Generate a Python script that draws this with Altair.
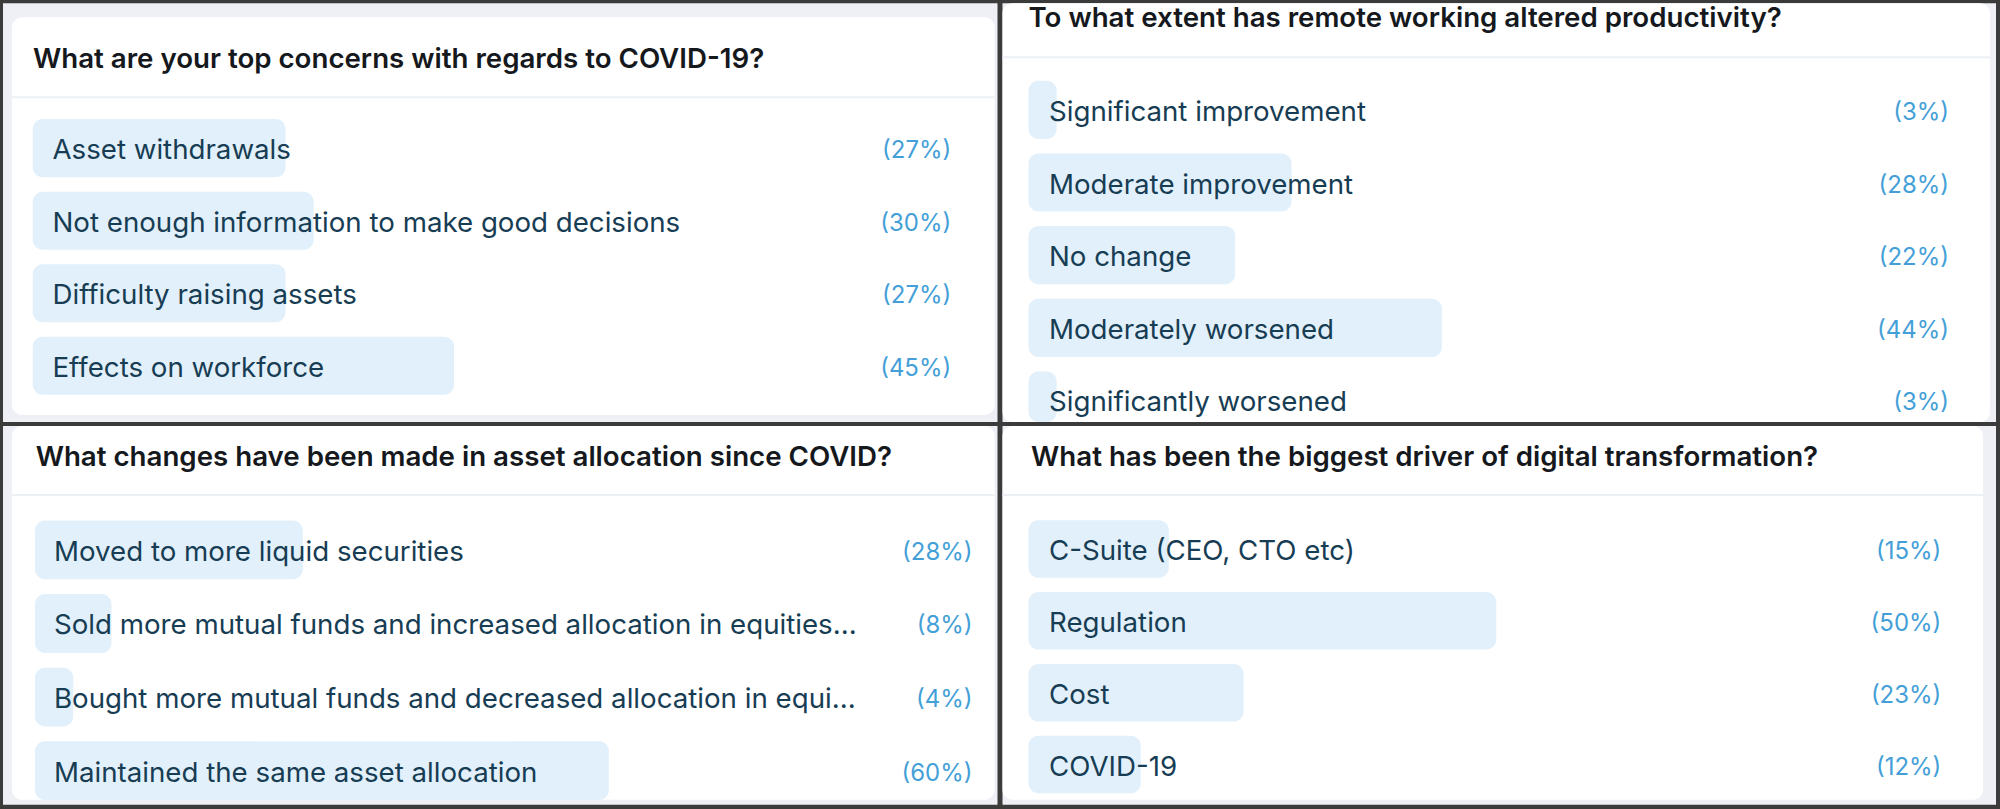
import altair as alt
import pandas as pd

# ---------------- data ----------------
tl_title = "What are your top concerns with regards to COVID-19?"
tl_options = ["Asset withdrawals", "Not enough information to make good decisions",
              "Difficulty raising assets", "Effects on workforce"]
tl_values = [27, 30, 27, 45]

tr_title = "To what extent has remote working altered productivity?"
tr_options = ["Significant improvement", "Moderate improvement", "No change",
              "Moderately worsened", "Significantly worsened"]
tr_values = [3, 28, 22, 44, 3]

bl_title = "What changes have been made in asset allocation since COVID?"
bl_options = ["Moved to more liquid securities",
              "Sold more mutual funds and increased allocation in equities...",
              "Bought more mutual funds and decreased allocation in equi...",
              "Maintained the same asset allocation"]
bl_values = [28, 8, 4, 60]

br_title = "What has been the biggest driver of digital transformation?"
br_options = ["C-Suite (CEO, CTO etc)", "Regulation", "Cost", "COVID-19"]
br_values = [15, 50, 23, 12]

FONT = "Inter"
BAR = "#e2f0fb"
LABEL = "#173d54"
PCT = "#449fd8"
TITLE = "#15181c"
PANEL_BG = "#eef0f6"
SEP = "#eceff3"
BORDER = "#3b3b3b"


def panel(title, options, values, w, h, card, title_xy, sep_y,
          x0, span, c0, pitch, label_x, pct_x):
    df = pd.DataFrame({"option": options, "value": values,
                       "pct": [f"({v}%)" for v in values],
                       "i": list(range(len(options)))})
    one = pd.DataFrame({"t": [title]})

    xs = alt.Scale(domain=[0, 100], range=[x0, x0 + span])
    # rows are laid out with a clamped linear scale in "row units"
    ys = alt.Scale(domain=[-c0 / pitch, (h - c0) / pitch], range=[0, h],
                   clamp=True, nice=False, zero=False)

    card_l = alt.Chart(one).mark_rect(color="white", cornerRadius=10).encode(
        x=alt.value(card[0]), x2=alt.value(card[1]),
        y=alt.value(card[2]), y2=alt.value(card[3]))
    sep_l = alt.Chart(one).mark_rule(color=SEP, strokeWidth=2).encode(
        x=alt.value(card[0]), x2=alt.value(card[1]), y=alt.value(sep_y))
    title_l = alt.Chart(one).mark_text(
        align="left", baseline="middle", font=FONT, fontSize=27.7,
        fontWeight=600, color=TITLE).encode(
        x=alt.value(title_xy[0]), y=alt.value(title_xy[1]), text="t:N")
    bars = alt.Chart(df).transform_calculate(
        top="datum.i - 0.4", bot="datum.i + 0.4"
    ).mark_rect(color=BAR, cornerRadius=10).encode(
        x=alt.X("value:Q", scale=xs, axis=None), x2=alt.datum(0),
        y=alt.Y("top:Q", scale=ys, axis=None), y2="bot:Q")
    labels = alt.Chart(df).mark_text(
        align="left", baseline="middle", font=FONT, fontSize=27.7, dy=3,
        color=LABEL).encode(x=alt.value(label_x),
                            y=alt.Y("i:Q", scale=ys, axis=None), text="option:N")
    pcts = alt.Chart(df).mark_text(
        align="right", baseline="middle", font=FONT, fontSize=24, dy=3,
        color=PCT).encode(x=alt.value(pct_x),
                          y=alt.Y("i:Q", scale=ys, axis=None), text="pct:N")
    return alt.layer(card_l, sep_l, bars, labels, pcts, title_l).properties(
        width=w, height=h)


tl = panel(tl_title, tl_options, tl_values, 995, 419,
           card=(9, 992, 14, 412), title_xy=(30, 57), sep_y=94,
           x0=29.7, span=937, c0=145, pitch=72.6, label_x=49.5, pct_x=948.7)
tr = panel(tr_title, tr_options, tr_values, 994, 419,
           card=(0, 988, 0, 419), title_xy=(26, 16), sep_y=54,
           x0=26, span=940, c0=106.7, pitch=72.7, label_x=46.5, pct_x=947)
bl = panel(bl_title, bl_options, bl_values, 995, 379,
           card=(9, 992, 0, 374), title_xy=(32.7, 32), sep_y=69,
           x0=32, span=957, c0=124, pitch=73.6, label_x=51, pct_x=970)
br = panel(br_title, br_options, br_values, 994, 379,
           card=(0, 981, 0, 374), title_xy=(28.6, 32), sep_y=69,
           x0=26, span=936, c0=123, pitch=71.9, label_x=46.5, pct_x=939.3)

chart = alt.concat(tl, tr, bl, br, columns=2, spacing=4).resolve_scale(
    x="independent", y="independent"
).properties(
    background=BORDER,
    padding={"left": 3, "top": 3, "right": 4, "bottom": 4},
).configure_view(fill=PANEL_BG, strokeWidth=0)

chart.save("out.html", embed_options={"renderer": "svg", "actions": False})
